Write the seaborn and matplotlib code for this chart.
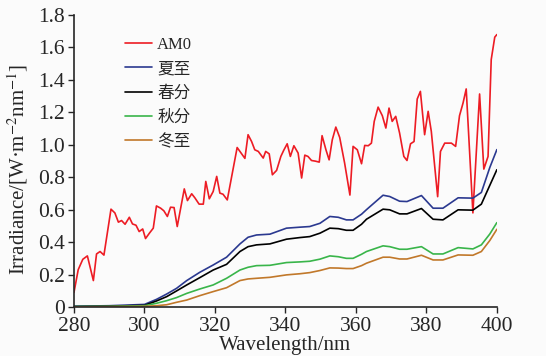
import matplotlib
matplotlib.use("Agg")
import matplotlib.pyplot as plt
import seaborn as sns
import pandas as pd
from matplotlib.ticker import FuncFormatter

# AM0 spectrum
am0_wl = [280, 281.2, 282.5, 283.8, 285.5, 286.4, 287.4, 288.5, 290.5, 291.6,
          292.6, 293.5, 294.5, 295.7, 296.6, 297.6, 298.5, 299.5, 300.3, 301.4,
          302.5, 303.4, 304.6, 305.5, 306.5, 307.4, 308.4, 309.3, 311.3, 312.2,
          313.4, 314.3, 315.5, 316.7, 317.4, 318.4, 319.5, 320.5, 321.4, 322.3,
          323.5, 326.3, 328.5, 329.4, 330.4, 331.3, 332.3, 333.7, 334.4, 335.4,
          336.3, 337.5, 338.7, 339.5, 340.5, 341.4, 342.4, 343.6, 344.6, 345.5,
          346.4, 347.4, 348.5, 349.6, 350.4, 351.5, 352.4, 353.3, 354.3, 355.4,
          356.8, 358.3, 359.2, 360.4, 361.6, 362.5, 363.5, 364.4, 365.2, 366.3,
          367.5, 368.5, 369.4, 370.3, 371.3, 372.4, 373.6, 374.5, 375.5, 376.5,
          377.4, 378.3, 379.5, 380.5, 381.4, 383.2, 384.0, 385.2, 387.1, 388.3,
          389.4, 390.4, 391.3, 393.2, 395.1, 396.3, 397.5, 398.4, 399.4, 400.0]
am0_val = [0.09, 0.23, 0.294, 0.315, 0.163, 0.327, 0.342, 0.32, 0.603, 0.58,
           0.523, 0.533, 0.51, 0.553, 0.512, 0.504, 0.465, 0.481, 0.422, 0.455,
           0.486, 0.623, 0.609, 0.593, 0.558, 0.615, 0.613, 0.496, 0.728, 0.656,
           0.698, 0.673, 0.634, 0.634, 0.774, 0.667, 0.712, 0.805, 0.702, 0.695,
           0.66, 0.983, 0.916, 1.062, 1.02, 0.969, 0.959, 0.918, 0.959, 0.944,
           0.815, 0.842, 0.928, 0.965, 1.006, 0.928, 0.994, 0.949, 0.795, 0.936,
           0.928, 0.903, 0.899, 0.893, 1.056, 0.969, 0.907, 1.031, 1.109, 1.045,
           0.887, 0.69, 0.99, 0.969, 0.883, 0.996, 0.994, 1.01, 1.144, 1.232,
           1.179, 1.103, 1.226, 1.144, 1.175, 1.072, 0.928, 0.903, 1.006, 1.02,
           1.282, 1.329, 1.062, 1.206, 1.082, 0.68, 0.959, 1.01, 1.01, 0.99,
           1.179, 1.257, 1.344, 0.58, 1.313, 0.85, 0.928, 1.525, 1.663, 1.679]

# seasonal curves share one wavelength grid
season_wl = [280, 290, 300, 303.4, 306.3, 309.1, 312, 315.7, 319.5, 323.3,
             327.1, 329.4, 331.8, 335.6, 340.3, 344.1, 346.9, 349.8, 352.6, 355,
             357.3, 359.2, 361.6, 363, 367.7, 369.6, 372.4, 374.5, 378.6, 381.9,
             384.7, 389, 393.2, 395.6, 398, 400]
summer = [0.005, 0.008, 0.016, 0.047, 0.08, 0.115, 0.163, 0.214, 0.259, 0.307,
          0.389, 0.43, 0.444, 0.449, 0.486, 0.492, 0.496, 0.516, 0.558, 0.553,
          0.537, 0.537, 0.572, 0.6, 0.689, 0.681, 0.652, 0.65, 0.687, 0.609,
          0.609, 0.673, 0.671, 0.706, 0.86, 0.97]
spring = [0.003, 0.005, 0.01, 0.037, 0.064, 0.099, 0.136, 0.181, 0.228, 0.263,
          0.342, 0.372, 0.383, 0.389, 0.418, 0.428, 0.434, 0.455, 0.486, 0.483,
          0.473, 0.473, 0.51, 0.541, 0.603, 0.599, 0.574, 0.574, 0.607, 0.541,
          0.537, 0.599, 0.597, 0.634, 0.75, 0.846]
autumn = [0.003, 0.004, 0.008, 0.023, 0.039, 0.058, 0.084, 0.111, 0.136, 0.177,
          0.228, 0.245, 0.255, 0.257, 0.274, 0.278, 0.282, 0.295, 0.315, 0.31,
          0.3, 0.3, 0.325, 0.342, 0.377, 0.372, 0.356, 0.356, 0.372, 0.327,
          0.327, 0.366, 0.358, 0.383, 0.45, 0.52]
winter = [0.001, 0.002, 0.004, 0.008, 0.014, 0.029, 0.043, 0.07, 0.095, 0.119,
          0.163, 0.173, 0.177, 0.183, 0.198, 0.205, 0.212, 0.225, 0.241, 0.24,
          0.237, 0.237, 0.255, 0.27, 0.307, 0.307, 0.296, 0.296, 0.319, 0.29,
          0.29, 0.321, 0.319, 0.342, 0.41, 0.479]

labels = ["AM0", "夏至", "春分", "秋分", "冬至"]
colors = ["#ed1c24", "#2b3990", "#000000", "#39b54a", "#c1782a"]

sns.set_style("ticks")
plt.rcParams["font.family"] = ["Liberation Serif", "Noto Sans CJK SC", "DejaVu Sans"]
plt.rcParams["mathtext.fontset"] = "stix"

fig = plt.figure(figsize=(5.46, 3.56), dpi=100, facecolor="#fbfbfb")
ax = fig.add_axes([0.1355, 0.1376, 0.7745, 0.8204])
ax.set_facecolor("#fbfbfb")

series = [(am0_wl, am0_val)] + [(season_wl, s) for s in (summer, spring, autumn, winter)]
for (wl, val), lab, col in zip(series, labels, colors):
    df = pd.DataFrame({"wl": wl, "val": val})
    sns.lineplot(data=df, x="wl", y="val", ax=ax, color=col, label=lab,
                 linewidth=1.2, sort=False, estimator=None)

ax.set_xlim(280, 400)
ax.set_ylim(0, 1.8)
ax.set_xticks(range(280, 401, 20))
ax.set_yticks([i * 0.2 for i in range(10)])
ax.yaxis.set_major_formatter(FuncFormatter(lambda v, p: "0" if abs(v) < 1e-9 else f"{v:.1f}"))
ax.tick_params(direction="out", length=4.5, width=1, labelsize=15.5, pad=2)
ax.tick_params(axis="x", pad=3)
for s in ("top", "right"):
    ax.spines[s].set_visible(False)
for s in ("left", "bottom"):
    ax.spines[s].set_linewidth(1.2)

ax.set_xlabel("Wavelength/nm", fontsize=15, labelpad=0)
ax.set_ylabel(r"Irradiance/[W·m$^{-2}$nm$^{-1}$]", fontsize=15, labelpad=4)
ax.yaxis.set_label_coords(-0.103, 0.47)

ax.legend(loc="upper left", bbox_to_anchor=(0.12, 0.925), frameon=False,
          fontsize=12, handlelength=1.65, handletextpad=0.3, labelspacing=0.5,
          borderpad=0, borderaxespad=0)

fig.savefig("out.png", dpi=100, facecolor=fig.get_facecolor())
